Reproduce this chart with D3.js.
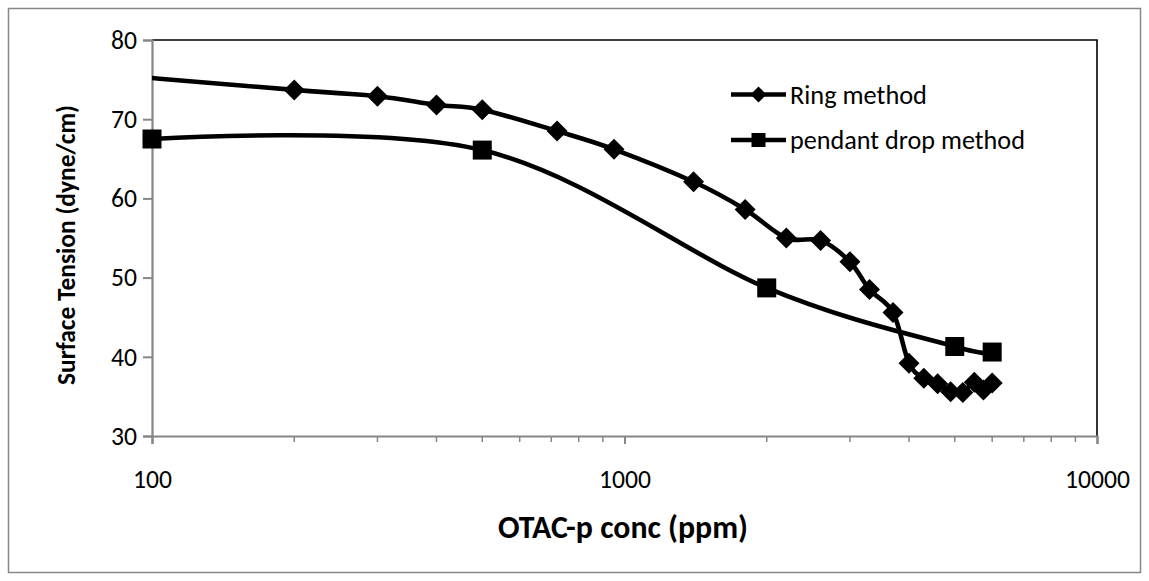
<!DOCTYPE html>
<html><head><meta charset="utf-8">
<script src="https://cdn.jsdelivr.net/npm/d3@7"></script>
<style>
html,body{margin:0;padding:0;background:#fff;}
svg{display:block;}
text{font-family:Carlito, Calibri, Lato, "Open Sans", sans-serif; fill:#000;}
</style></head>
<body>
<svg id="chart" width="1149" height="581"></svg>
<script>
// ---- data ----
const ringConc = [50, 200, 300, 400, 500, 720, 950, 1400, 1800, 2200, 2600, 3000, 3300, 3700, 4000, 4300, 4600, 4900, 5200, 5500, 5750, 6000];
const ringTension = [76.7, 73.7, 72.9, 71.8, 71.2, 68.5, 66.2, 62.1, 58.6, 55.0, 54.7, 52.0, 48.5, 45.6, 39.2, 37.3, 36.6, 35.6, 35.5, 36.8, 35.8, 36.7];
const pendantConc = [100, 500, 2000, 5000, 6000];
const pendantTension = [67.5, 66.1, 48.7, 41.3, 40.6];
const seriesNames = ["Ring method", "pendant drop method"];
const xTickValues = [100, 1000, 10000];
const yTickValues = [30, 40, 50, 60, 70, 80];
const xTitle = "OTAC-p conc (ppm)";
const yTitle = "Surface Tension (dyne/cm)";

const svg = d3.select("#chart");
const plot = {left: 152, right: 1097, top: 40, bottom: 436};
const FONT = "Carlito, Calibri, Lato, sans-serif";

// fit a text element to a target width (font substitution safety)
function fit(sel, target) {
  const node = sel.node();
  const w = node.getComputedTextLength();
  const fs = parseFloat(sel.attr("font-size"));
  if (w > 0) sel.attr("font-size", (fs * target / w).toFixed(2));
}

// outer frame
svg.append("rect").attr("x", 8.5).attr("y", 8.5).attr("width", 1132).attr("height", 564)
  .attr("fill", "#fff").attr("stroke", "#878787").attr("stroke-width", 1.5);

const x = d3.scaleLog().domain([100, 10000]).range([plot.left, plot.right]);
const y = d3.scaleLinear().domain([30, 80]).range([plot.bottom, plot.top]);

// plot border (top/right black)
svg.append("path")
  .attr("d", `M${plot.left},${plot.top}H${plot.right}V${plot.bottom}`)
  .attr("fill", "none").attr("stroke", "#000").attr("stroke-width", 1.6);

// minor x ticks
const minor = [];
for (let d = 100; d < 10000; d *= 10) for (let k = 2; k <= 9; k++) minor.push(d * k);
svg.append("g").selectAll("line").data(minor).join("line")
  .attr("x1", d => x(d)).attr("x2", d => x(d))
  .attr("y1", plot.bottom).attr("y2", plot.bottom + 6)
  .attr("stroke", "#868686").attr("stroke-width", 1.5);

// x axis
const xAxis = d3.axisBottom(x).tickValues(xTickValues).tickFormat(d3.format("d")).tickSize(8);
const gx = svg.append("g").attr("transform", `translate(0,${plot.bottom})`).call(xAxis);
gx.select(".domain").attr("stroke", "#868686").attr("stroke-width", 2.2);
gx.selectAll(".tick line").attr("stroke", "#868686").attr("stroke-width", 2);
gx.selectAll("text").attr("font-size", 26).attr("font-family", FONT).attr("fill", "#000")
  .attr("y", 52).attr("dy", 0)
  .each(function(d) { fit(d3.select(this), 13 * String(d).length); });

// y axis
const yAxis = d3.axisLeft(y).tickValues(yTickValues).tickSize(9).tickPadding(6);
const gy = svg.append("g").attr("transform", `translate(${plot.left},0)`).call(yAxis);
gy.select(".domain").attr("stroke", "#868686").attr("stroke-width", 2.2);
gy.selectAll(".tick line").attr("stroke", "#868686").attr("stroke-width", 2);
gy.selectAll("text").attr("font-size", 26).attr("font-family", FONT).attr("fill", "#000")
  .each(function(d) { fit(d3.select(this), 13 * String(d).length); });

const line = d3.line().x(d => x(d[0])).y(d => y(d[1])).curve(d3.curveCatmullRom.alpha(0));

const ring = ringConc.map((c, i) => [c, ringTension[i]]);
const pend = pendantConc.map((c, i) => [c, pendantTension[i]]);

svg.append("clipPath").attr("id", "clipLine").append("rect")
  .attr("x", plot.left).attr("y", plot.top).attr("width", plot.right - plot.left).attr("height", plot.bottom - plot.top);

const gData = svg.append("g").attr("clip-path", "url(#clipLine)");
gData.append("path").datum(pend).attr("d", line).attr("fill", "none").attr("stroke", "#000").attr("stroke-width", 4.6).attr("stroke-linejoin", "round");
gData.append("path").datum(ring).attr("d", line).attr("fill", "none").attr("stroke", "#000").attr("stroke-width", 4.6).attr("stroke-linejoin", "round");

const diamond = s => `M0,${-s}L${s},0L0,${s}L${-s},0Z`;
const square = s => `M${-s},${-s}H${s}V${s}H${-s}Z`;

svg.append("g").selectAll("path").data(pend.filter(d => d[0] >= 100 && d[0] <= 10000)).join("path")
  .attr("transform", d => `translate(${x(d[0])},${y(d[1])})`)
  .attr("d", square(9.5)).attr("fill", "#000");
svg.append("g").selectAll("path").data(ring.filter(d => d[0] >= 100 && d[0] <= 10000)).join("path")
  .attr("transform", d => `translate(${x(d[0])},${y(d[1])})`)
  .attr("d", diamond(10.5)).attr("fill", "#000");

// legend
const legY = [94.5, 140];
const legW = [137, 235];
seriesNames.forEach((name, i) => {
  const g = svg.append("g").attr("transform", `translate(0,${legY[i]})`);
  g.append("line").attr("x1", 731).attr("x2", 786).attr("y1", 0).attr("y2", 0).attr("stroke", "#000").attr("stroke-width", 4.6);
  g.append("path").attr("transform", "translate(758.5,0)").attr("d", i === 0 ? diamond(8) : square(7)).attr("fill", "#000");
  const t = g.append("text").attr("x", 790).attr("y", 0).attr("dy", "0.35em").attr("font-size", 26.3).text(name);
  fit(t, legW[i]);
});

// axis titles
const xt = svg.append("text").attr("x", 623).attr("y", 538).attr("text-anchor", "middle")
  .attr("font-size", 32).attr("font-weight", "bold").text(xTitle);
fit(xt, 250);
const yt = svg.append("text").attr("transform", `translate(75,245) rotate(-90)`).attr("text-anchor", "middle")
  .attr("font-size", 25.7).attr("font-weight", "bold").text(yTitle);
fit(yt, 280);
</script>
</body></html>
